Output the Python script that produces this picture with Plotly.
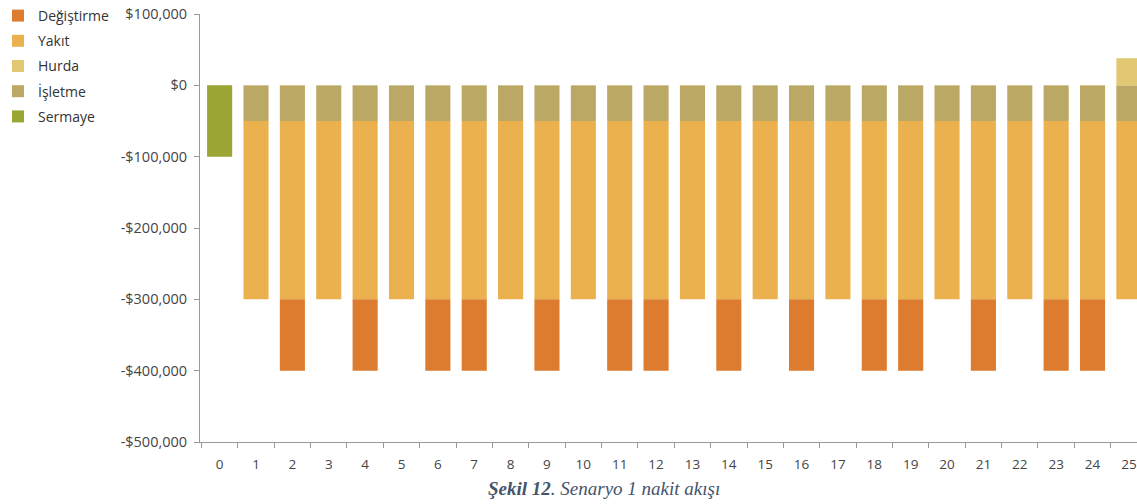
import plotly.graph_objects as go

years = [str(i) for i in range(26)]
sermaye = [-100000] + [0] * 25
isletme = [0] + [-50000] * 25
yakit = [0] + [-250000] * 25
degistirme_years = [2, 4, 6, 7, 9, 11, 12, 14, 16, 18, 19, 21, 23, 24]
degistirme = [(-100000 if i in degistirme_years else 0) for i in range(26)]
hurda = [0] * 25 + [38000]

y_ticks = [100000, 0, -100000, -200000, -300000, -400000, -500000]
y_labels = ["$100,000", "$0", "-$100,000", "-$200,000", "-$300,000", "-$400,000", "-$500,000"]

c_deg = "#DD7C2E"
c_yak = "#EBB14E"
c_hur = "#E2C872"
c_isl = "#BCA865"
c_ser = "#9AA533"

W, H = 1137, 504
L, R, T = 200, 0, 14
B = H - 442
pw, ph = W - L - R, H - T - B

fig = go.Figure()
bw = 0.69
series = [
    ("Sermaye", sermaye, c_ser, 5),
    ("İşletme", isletme, c_isl, 4),
    ("Yakıt", yakit, c_yak, 2),
    ("Değiştirme", degistirme, c_deg, 1),
    ("Hurda", hurda, c_hur, 3),
]
for name, vals, col, rank in series:
    fig.add_trace(go.Bar(x=years, y=vals, name=name, marker=dict(color=col, line=dict(width=0)),
                         width=bw, legendrank=rank, legendgroup=name))

x0 = -0.54
x1 = x0 + pw / 36.37

fig.update_layout(
    barmode="relative",
    width=W, height=H,
    margin=dict(l=L, r=R, t=T, b=B, autoexpand=False),
    paper_bgcolor="white", plot_bgcolor="white",
    font=dict(family="Open Sans, Noto Sans, sans-serif", size=13, color="#454545"),
    showlegend=True,
    legend=dict(x=(-2 - L) / pw, y=1 + (T - 0) / ph, xref="paper", yref="paper",
                xanchor="left", yanchor="top",
                font=dict(size=14, color="#333333"), itemwidth=30, tracegroupgap=4,
                traceorder="grouped", bgcolor="rgba(0,0,0,0)"),
    xaxis=dict(type="category", range=[x0, x1], showgrid=False,
               showline=True, linecolor="#999999", linewidth=1,
               ticks="outside", tickson="boundaries", ticklen=5, tickcolor="#999999",
               ticklabelstandoff=10, ticklabeloverflow="allow",
               tickfont=dict(size=13.5, color="#454545")),
    yaxis=dict(range=[-500000, 100000], tickvals=y_ticks, ticktext=y_labels,
               showgrid=False, zeroline=False, showline=True, linecolor="#999999", linewidth=1,
               ticks="outside", ticklen=5, tickcolor="#999999",
               ticklabelstandoff=4, ticklabeloverflow="allow",
               tickfont=dict(size=14.5, color="#454545")),
    annotations=[dict(
        text="<b><i>Şekil 12</i></b><i>. Senaryo 1 nakit akışı</i>",
        x=(604 - L) / pw, y=-((495 + 6) - (T + ph)) / ph, xref="paper", yref="paper",
        showarrow=False, xanchor="center", yanchor="bottom",
        font=dict(family="Liberation Serif, Times New Roman, serif", size=19, color="#44546A"))],
)

fig.write_html("out.html",
               config={"displayModeBar": False},
               post_script="document.body.style.margin='0';document.body.style.overflow='hidden';")
